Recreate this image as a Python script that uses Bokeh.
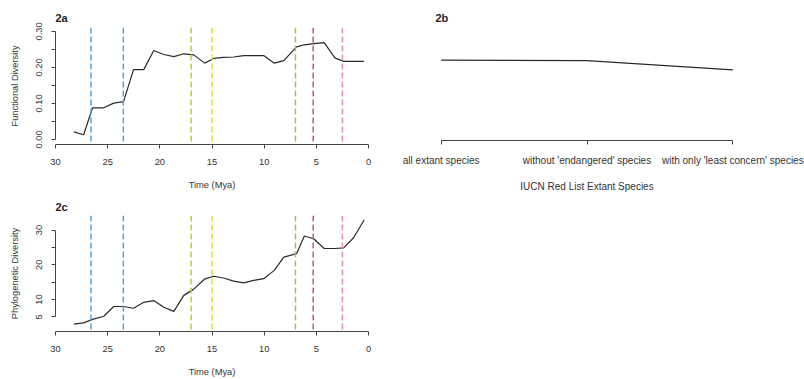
from bokeh.plotting import figure
from bokeh.layouts import row, column
from bokeh.models import Range1d, FixedTicker, Span
from bokeh.embed import file_html
from bokeh.resources import INLINE

# ---------------- data ----------------
time_mya = [28.24, 27.3, 26.45, 25.37, 24.42, 23.48, 22.52, 21.54, 20.58, 19.62,
            18.66, 17.7, 16.75, 15.7, 14.84, 13.88, 12.92, 11.97, 11.0, 10.05,
            9.03, 8.12, 6.9, 6.15, 5.25, 4.25, 3.2, 2.37, 1.43, 0.42]
functional_div = [0.021, 0.013, 0.088, 0.088, 0.101, 0.105, 0.194, 0.194, 0.247, 0.236,
                  0.230, 0.238, 0.235, 0.212, 0.225, 0.228, 0.229, 0.233, 0.233, 0.233,
                  0.212, 0.219, 0.257, 0.263, 0.266, 0.269, 0.226, 0.217, 0.217, 0.217]
phylo_div = [2.9, 3.3, 4.3, 5.2, 8.0, 8.0, 7.5, 9.2, 9.7, 7.8,
             6.6, 11.2, 13.0, 15.9, 16.7, 16.2, 15.3, 14.8, 15.5, 16.0,
             18.4, 22.2, 23.2, 28.3, 27.5, 24.7, 24.7, 24.9, 27.8, 32.9]

boundaries = [26.6, 23.5, 17.0, 15.0, 7.0, 5.3, 2.5]
boundary_colors = ["#5b9fd6", "#5b9fd6", "#c9c43a", "#e3df2e", "#bab552", "#c05a80", "#ea8fa9"]

iucn_categories = ["all extant species", "without 'endangered' species",
                   "with only 'least concern' species"]
iucn_pos = [1, 2, 3]
iucn_fd = [0.217, 0.216, 0.189]

time_ticks = [0, 5, 10, 15, 20, 25, 30]
fd_ticks = [0.0, 0.05, 0.1, 0.15, 0.2, 0.25, 0.3]
fd_tick_labels = ["0.00", "", "0.10", "", "0.20", "", "0.30"]
pd_ticks = [5, 10, 15, 20, 25, 30]
pd_tick_labels = ["5", "10", "", "20", "", "30"]

FONT = "Liberation Sans"
TXT = "#333333"
AX = "#444444"


def style_axis(ax, size="9.3px", lsize="9.3px"):
    ax.axis_line_color = AX
    ax.major_tick_line_color = AX
    ax.minor_tick_line_color = None
    ax.major_tick_in = 0
    ax.major_tick_out = 4
    ax.major_label_text_font = FONT
    ax.major_label_text_font_size = size
    ax.major_label_text_color = TXT
    ax.axis_label_text_font = FONT
    ax.axis_label_text_font_size = lsize
    ax.axis_label_text_font_style = "normal"
    ax.axis_label_text_color = TXT


def base_fig(w, h, left, right, top, bottom, xr, yr, title, standoff):
    p = figure(width=w, height=h, x_range=xr, y_range=yr,
               output_backend="svg", toolbar_location=None,
               min_border_left=left, min_border_right=right,
               min_border_top=top, min_border_bottom=bottom)
    p.outline_line_color = None
    p.grid.visible = False
    p.title.text = title
    p.title.text_font = FONT
    p.title.text_font_style = "bold"
    p.title.text_font_size = "11px"
    p.title.text_color = "#222222"
    p.title.align = "left"
    p.title.standoff = standoff
    return p


def time_panel(w, h, left, right, top, bottom, yr, title, standoff,
               yvals, ylabel, yticks, ylabels, ybounds):
    p = base_fig(w, h, left, right, top, bottom, Range1d(30, 0), yr, title, standoff)
    for loc, col in zip(boundaries, boundary_colors):
        p.add_layout(Span(location=loc, dimension="height", line_color=col,
                          line_dash="6 3", line_width=1.5))
    p.line(time_mya, yvals, line_color="#2a2a2a", line_width=1.2)
    xa = p.xaxis[0]
    xa.ticker = FixedTicker(ticks=time_ticks)
    xa.axis_label = "Time (Mya)"
    style_axis(xa)
    xa.major_label_standoff = 10
    xa.axis_label_standoff = 12
    ya = p.yaxis[0]
    ya.ticker = FixedTicker(ticks=yticks)
    ya.major_label_overrides = {t: l for t, l in zip(yticks, ylabels)}
    ya.major_label_orientation = "vertical"
    ya.axis_label = ylabel
    ya.bounds = ybounds
    style_axis(ya)
    ya.major_label_standoff = 9
    ya.axis_label_standoff = 14
    return p


pa = time_panel(398, 194, 55, 30, 27, 50, Range1d(-0.014, 0.311), "2a", 7,
                functional_div, "Functional Diversity", fd_ticks, fd_tick_labels, (0, 0.3))
pc = time_panel(398, 185, 55, 30, 21, 45, Range1d(0.8, 34.2), "2c", 5,
                phylo_div, "Phylogenetic Diversity", pd_ticks, pd_tick_labels, (5, 30))

pb = base_fig(406, 194, 31, 60, 27, 50, Range1d(0.92, 3.08), Range1d(-0.014, 0.311), "2b", 7)
pb.title.offset = 6
pb.line(iucn_pos, iucn_fd, line_color="#2a2a2a", line_width=1.2)
pb.yaxis.visible = False
xb = pb.xaxis[0]
xb.ticker = FixedTicker(ticks=iucn_pos)
xb.major_label_overrides = {p_: c for p_, c in zip(iucn_pos, iucn_categories)}
xb.bounds = (1, 3)
xb.axis_label = "IUCN Red List Extant Species"
style_axis(xb, size="10px", lsize="10px")
xb.major_label_standoff = 10
xb.axis_label_standoff = 12

layout = row(column(pa, pc), pb)

open("out.html", "w").write(file_html(layout, INLINE))
